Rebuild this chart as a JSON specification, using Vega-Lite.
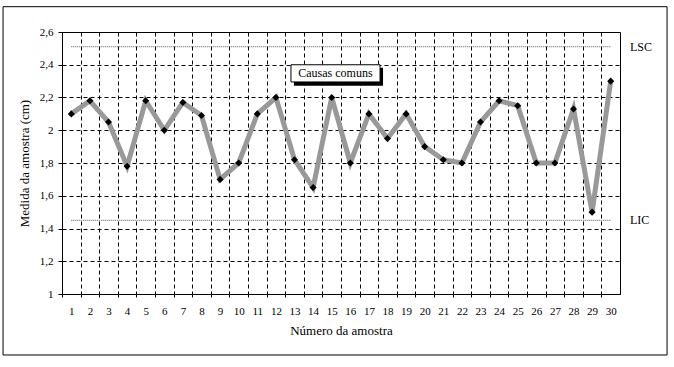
{
  "$schema": "https://vega.github.io/schema/vega-lite/v6.json",
  "width": 558,
  "height": 262,
  "autosize": {"type": "none"},
  "padding": {"left": 62, "top": 32, "right": 54, "bottom": 73},
  "background": "white",
  "config": {
    "font": "Liberation Serif, Times New Roman, serif",
    "view": {"stroke": "black", "strokeWidth": 1},
    "axis": {
      "domainColor": "black",
      "tickColor": "black",
      "gridColor": "black",
      "gridDash": [4, 3],
      "gridOpacity": 1,
      "gridWidth": 1,
      "labelColor": "black",
      "titleColor": "black",
      "labelFont": "Liberation Serif, Times New Roman, serif",
      "titleFont": "Liberation Serif, Times New Roman, serif",
      "labelFontSize": 11,
      "titleFontSize": 13,
      "titleFontWeight": "normal",
      "tickSize": 4
    }
  },
  "datasets": {
    "samples": [
      {"n": 1, "v": 2.10}, {"n": 2, "v": 2.18}, {"n": 3, "v": 2.05}, {"n": 4, "v": 1.78},
      {"n": 5, "v": 2.18}, {"n": 6, "v": 2.00}, {"n": 7, "v": 2.17}, {"n": 8, "v": 2.09},
      {"n": 9, "v": 1.70}, {"n": 10, "v": 1.80}, {"n": 11, "v": 2.10}, {"n": 12, "v": 2.20},
      {"n": 13, "v": 1.82}, {"n": 14, "v": 1.65}, {"n": 15, "v": 2.20}, {"n": 16, "v": 1.80},
      {"n": 17, "v": 2.10}, {"n": 18, "v": 1.95}, {"n": 19, "v": 2.10}, {"n": 20, "v": 1.90},
      {"n": 21, "v": 1.82}, {"n": 22, "v": 1.80}, {"n": 23, "v": 2.05}, {"n": 24, "v": 2.18},
      {"n": 25, "v": 2.15}, {"n": 26, "v": 1.80}, {"n": 27, "v": 1.80}, {"n": 28, "v": 2.13},
      {"n": 29, "v": 1.50}, {"n": 30, "v": 2.30}
    ],
    "limits": [
      {"nome": "LSC", "v": 2.51},
      {"nome": "LIC", "v": 1.45}
    ],
    "note": [{"texto": "Causas comuns"}]
  },
  "data": {"name": "samples"},
  "layer": [
    {
      "data": {"name": "note"},
      "mark": {"type": "rect", "fill": null, "fillOpacity": 0, "stroke": "black", "strokeWidth": 1, "clip": false},
      "encoding": {
        "x": {"datum": -2.67, "type": "quantitative"},
        "x2": {"datum": 33.03},
        "y": {"datum": 2.7545, "type": "quantitative"},
        "y2": {"datum": 0.6275}
      }
    },
    {
      "data": {"name": "limits"},
      "mark": {"type": "rule", "stroke": "#555555", "strokeWidth": 1, "strokeDash": [1, 1]},
      "encoding": {
        "x": {"datum": 1, "type": "quantitative"},
        "x2": {"datum": 30},
        "y": {"field": "v", "type": "quantitative"}
      }
    },
    {
      "data": {"name": "limits"},
      "mark": {"type": "text", "align": "left", "baseline": "middle", "fontSize": 12, "font": "Liberation Serif, Times New Roman, serif", "color": "black"},
      "encoding": {
        "x": {"datum": 31.04, "type": "quantitative"},
        "y": {"field": "v", "type": "quantitative"},
        "text": {"field": "nome"}
      }
    },
    {
      "mark": {"type": "line", "stroke": "#999999", "strokeWidth": 5},
      "encoding": {
        "x": {
          "field": "n", "type": "quantitative",
          "title": "Número da amostra",
          "scale": {"domain": [0.5, 30.5], "nice": false, "zero": false},
          "axis": {
            "values": [0.5, 1.5, 2.5, 3.5, 4.5, 5.5, 6.5, 7.5, 8.5, 9.5, 10.5, 11.5, 12.5, 13.5, 14.5, 15.5, 16.5, 17.5, 18.5, 19.5, 20.5, 21.5, 22.5, 23.5, 24.5, 25.5, 26.5, 27.5, 28.5, 29.5],
            "tickCount": 200,
            "labelExpr": "format(datum.value + 0.5, 'd')",
            "labelOffset": 9.3,
            "labelPadding": 8,
            "labelFlush": false,
            "labelOverlap": false,
            "tickSize": 3,
            "grid": true,
            "titlePadding": 8
          }
        },
        "y": {
          "field": "v", "type": "quantitative",
          "title": "Medida da amostra (cm)",
          "scale": {"domain": [1, 2.6], "nice": false, "zero": false},
          "axis": {
            "values": [1, 1.2, 1.4, 1.6, 1.8, 2, 2.2, 2.4, 2.6],
            "tickCount": 200,
            "labelExpr": "replace(format(datum.value, '.1~f'), '.', ',')",
            "labelPadding": 5,
            "labelFlush": false,
            "labelOverlap": false,
            "grid": true,
            "titlePadding": 8
          }
        }
      }
    },
    {
      "mark": {"type": "point", "shape": "diamond", "filled": true, "color": "black", "opacity": 1, "size": 50},
      "encoding": {
        "x": {"field": "n", "type": "quantitative"},
        "y": {"field": "v", "type": "quantitative"}
      }
    },
    {
      "data": {"name": "note"},
      "mark": {"type": "rect", "fill": "black", "clip": false},
      "encoding": {
        "x": {"datum": 12.97, "type": "quantitative"},
        "x2": {"datum": 17.76},
        "y": {"datum": 2.382, "type": "quantitative"},
        "y2": {"datum": 2.271}
      }
    },
    {
      "data": {"name": "note"},
      "mark": {"type": "rect", "fill": "white", "stroke": "black", "strokeWidth": 1, "clip": false},
      "encoding": {
        "x": {"datum": 12.81, "type": "quantitative"},
        "x2": {"datum": 17.60},
        "y": {"datum": 2.400, "type": "quantitative"},
        "y2": {"datum": 2.295}
      }
    },
    {
      "data": {"name": "note"},
      "mark": {"type": "text", "align": "center", "baseline": "middle", "fontSize": 12, "font": "Liberation Serif, Times New Roman, serif", "color": "black"},
      "encoding": {
        "x": {"datum": 15.2, "type": "quantitative"},
        "y": {"datum": 2.347, "type": "quantitative"},
        "text": {"field": "texto"}
      }
    }
  ]
}
